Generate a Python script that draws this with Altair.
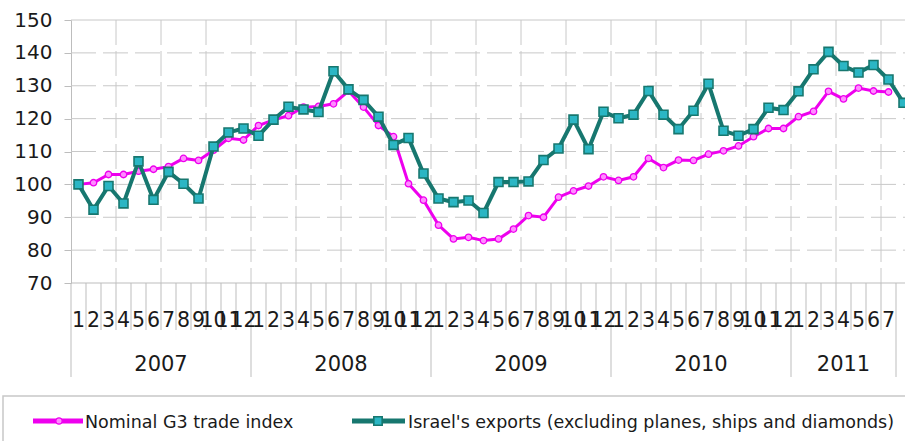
import altair as alt
import pandas as pd

# ---------------- data ----------------
YEARS = ["2007", "2008", "2009", "2010", "2011"]
MONTHS_PER_YEAR = [12, 12, 12, 12, 7]
SERIES = ["Nominal G3 trade index",
          "Israel's exports (excluding planes, ships and diamonds)"]

G3_INDEX = [100, 100.5, 103, 103, 104, 104.6, 105.4, 107.9, 107.3, 110.4, 114, 113.5,
            117.9, 119.6, 120.9, 123.5, 123.7, 124.5, 128.4, 123.5, 117.9, 114.5, 100.2, 95.2,
            87.6, 83.4, 83.9, 82.9, 83.4, 86.4, 90.5, 90, 96.1, 98, 99.5, 102.3,
            101.2, 102.3, 107.9, 105.1, 107.4, 107.3, 109.2, 110.2, 111.7, 114.5, 117, 117,
            120.6, 122.2, 128.3, 126, 129.3, 128.4, 128.1]

ISRAEL_EXPORTS = [100, 92.3, 99.5, 94.2, 107, 95.3, 103.8, 100.2, 95.7, 111.5, 115.8, 117,
                  114.8, 119.7, 123.6, 122.8, 122, 134.4, 128.9, 125.7, 120.6, 112, 114.1, 103.3,
                  95.7, 94.6, 95.1, 91.3, 100.7, 100.7, 100.9, 107.4, 110.9, 119.7, 110.7, 122.1,
                  120.1, 121.2, 128.4, 121.2, 116.8, 122.4, 130.6, 116.3, 114.8, 116.8, 123.3, 122.6,
                  128.3, 135, 140.3, 136, 134, 136.3, 131.9, 124.8]

Y_TICKS = list(range(70, 151, 10))

# ---------------- layout ----------------
W, H = 834, 263
FONT = "DejaVu Sans"
GRID = "#c8c8c8"
AXIS = "#bdbdbd"
MAG = "#ee00ee"
TEAL = "#17776f"

XS = alt.Scale(domain=[-0.5, 55.1], nice=False, zero=False)
YS = alt.Scale(domain=[70, 150], nice=False, zero=False)
YAX = alt.Axis(values=Y_TICKS, grid=False, domain=True, domainColor=AXIS, domainWidth=1,
               ticks=True, tickSize=7, tickColor=AXIS, labelFont=FONT, labelFontSize=20,
               labelColor="#1a1a1a", labelPadding=12, title=None)

# tables
month_rows = []
year_rows = []
bound_rows = []
start = 0
for y, n in zip(YEARS, MONTHS_PER_YEAR):
    for m in range(n):
        month_rows.append({"idx": start + m, "lab": str(m + 1)})
    year_rows.append({"pos": start + n / 2 - 0.5, "year": y})
    start += n
n_cat = start
year_starts = [0]
for n in MONTHS_PER_YEAR:
    year_starts.append(year_starts[-1] + n)
for k in range(n_cat + 1):
    bound_rows.append({"pos": k - 0.5, "major": k in year_starts})

months_df = pd.DataFrame(month_rows)
years_df = pd.DataFrame(year_rows)
bounds_df = pd.DataFrame(bound_rows)
minor_df = bounds_df[~bounds_df["major"]]
major_df = bounds_df[bounds_df["major"]]

g3_df = pd.DataFrame({"idx": range(len(G3_INDEX)), "v": G3_INDEX})
isr_df = pd.DataFrame({"idx": range(len(ISRAEL_EXPORTS)), "v": ISRAEL_EXPORTS})

hgrid_df = pd.DataFrame({"v": Y_TICKS[1:-1]})
top_df = pd.DataFrame({"v": [150]})
base_df = pd.DataFrame({"v": [70]})
vgrid_df = pd.DataFrame({"pos": [k * 3 - 0.5 for k in range(1, 19)]})

one = pd.DataFrame({"a": [0]})
leg_df = pd.DataFrame({"name": SERIES})

# ---------------- layers ----------------
hgrid = alt.Chart(hgrid_df).mark_rule(color=GRID, strokeWidth=1, strokeDash=[25, 7]).encode(
    y=alt.Y("v:Q", scale=YS, axis=YAX), x=alt.value(0), x2=alt.value(W))
top = alt.Chart(top_df).mark_rule(color=GRID, strokeWidth=1).encode(
    y=alt.Y("v:Q", scale=YS, axis=YAX), x=alt.value(0), x2=alt.value(W))
vgrid = alt.Chart(vgrid_df).mark_rule(color=GRID, strokeWidth=1, strokeDash=[25, 6]).encode(
    x=alt.X("pos:Q", scale=XS, axis=None), y=alt.value(0), y2=alt.value(H))
base = alt.Chart(base_df).mark_rule(color=AXIS, strokeWidth=1).encode(
    y=alt.Y("v:Q", scale=YS, axis=YAX), x=alt.value(0), x2=alt.value(W))

minor_ticks = alt.Chart(minor_df).mark_rule(color=AXIS, strokeWidth=1).encode(
    x=alt.X("pos:Q", scale=XS, axis=None), y=alt.value(H), y2=alt.value(H + 47))
major_ticks = alt.Chart(major_df).mark_rule(color=AXIS, strokeWidth=1).encode(
    x=alt.X("pos:Q", scale=XS, axis=None), y=alt.value(H), y2=alt.value(H + 94))

month_text = alt.Chart(months_df).mark_text(
    font=FONT, fontSize=20.5, color="#1a1a1a", baseline="alphabetic", align="center").encode(
    x=alt.X("idx:Q", scale=XS, axis=None), y=alt.value(H + 44), text="lab:N")
year_text = alt.Chart(years_df).mark_text(
    font=FONT, fontSize=21, color="#1a1a1a", baseline="alphabetic", align="center").encode(
    x=alt.X("pos:Q", scale=XS, axis=None), y=alt.value(H + 88), text="year:N")

g3_line = alt.Chart(g3_df).mark_line(color=MAG, strokeWidth=3).encode(
    x=alt.X("idx:Q", scale=XS, axis=None), y=alt.Y("v:Q", scale=YS, axis=YAX))
g3_pts = alt.Chart(g3_df).mark_point(shape="circle", filled=True, size=42, fill="#ff8cff",
                                      stroke=MAG, strokeWidth=1.3, opacity=1).encode(
    x=alt.X("idx:Q", scale=XS, axis=None), y=alt.Y("v:Q", scale=YS, axis=YAX))
isr_line = alt.Chart(isr_df).mark_line(color=TEAL, strokeWidth=4).encode(
    x=alt.X("idx:Q", scale=XS, axis=None), y=alt.Y("v:Q", scale=YS, axis=YAX))
isr_pts = alt.Chart(isr_df).mark_point(shape="square", filled=True, size=80, fill="#2bb6c4",
                                       stroke=TEAL, strokeWidth=1.6, opacity=1).encode(
    x=alt.X("idx:Q", scale=XS, axis=None), y=alt.Y("v:Q", scale=YS, axis=YAX))

# legend (drawn by hand, bottom box)
LY = H + 138
leg_box = alt.Chart(one).mark_rect(fill="transparent", stroke=GRID, strokeWidth=1.5).encode(
    x=alt.value(-68), x2=alt.value(W + 20), y=alt.value(H + 113), y2=alt.value(H + 220))
leg_l1 = alt.Chart(one).mark_rule(color=MAG, strokeWidth=5).encode(
    x=alt.value(-38), x2=alt.value(12), y=alt.value(LY))
leg_p1 = alt.Chart(one).mark_point(shape="circle", filled=True, size=40, fill="#ff8cff",
                                    stroke=MAG, strokeWidth=1.3, opacity=1).encode(
    x=alt.value(-12), y=alt.value(LY))
leg_l2 = alt.Chart(one).mark_rule(color=TEAL, strokeWidth=5).encode(
    x=alt.value(281), x2=alt.value(334), y=alt.value(LY))
leg_p2 = alt.Chart(one).mark_point(shape="square", filled=True, size=70, fill="#2bb6c4",
                                    stroke=TEAL, strokeWidth=1.6, opacity=1).encode(
    x=alt.value(307), y=alt.value(LY))
leg_t1 = alt.Chart(leg_df.iloc[[0]]).mark_text(
    font=FONT, fontSize=17.5, color="#1a1a1a", align="left", baseline="alphabetic").encode(
    x=alt.value(14), y=alt.value(LY + 7), text="name:N")
leg_t2 = alt.Chart(leg_df.iloc[[1]]).mark_text(
    font=FONT, fontSize=17.5, color="#1a1a1a", align="left", baseline="alphabetic").encode(
    x=alt.value(337), y=alt.value(LY + 7), text="name:N")

chart = alt.layer(
    hgrid, top, vgrid, base, minor_ticks, major_ticks, month_text, year_text,
    g3_line, g3_pts, isr_line, isr_pts,
    leg_box, leg_l1, leg_p1, leg_l2, leg_p2, leg_t1, leg_t2,
).properties(
    width=W, height=H,
    padding={"left": 71, "top": 20, "right": 0, "bottom": 158},
    autosize=alt.AutoSizeParams(type="none"),
    background="white",
).configure_view(strokeWidth=0)

chart.save("out.html", embed_options={"renderer": "svg", "actions": False})
